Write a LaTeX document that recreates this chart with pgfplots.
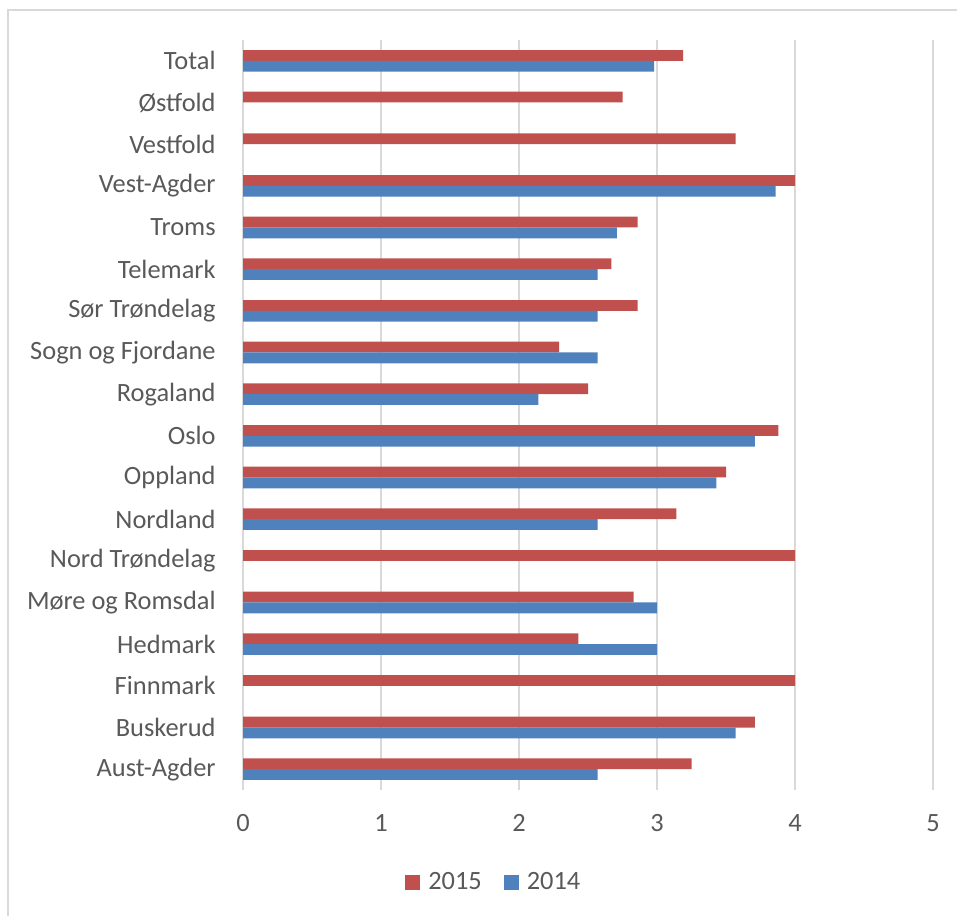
\documentclass[border=0pt]{standalone}
\usepackage{pgfplots}
\pgfplotsset{compat=1.18}
\usepackage{fontspec}
\setmainfont{Carlito}
\definecolor{txt}{HTML}{595959}
\definecolor{gridc}{HTML}{D9D9D9}
\definecolor{red15}{HTML}{C0504D}
\definecolor{blue14}{HTML}{4F81BD}
\begin{document}
\begin{tikzpicture}
\useasboundingbox (0,0) rectangle (478.5pt,457.5pt);
% chart area border (runs past the right and bottom edge)
\draw[gridc, line width=0.6pt] (4pt,-10pt) rectangle (492pt,452.5pt);
\begin{axis}[
    at={(121.5pt,62.5pt)}, anchor=south west,
    scale only axis, width=345pt, height=375pt,
    xbar, bar width=5.4pt,
    xmin=0, xmax=5, ymin=-0.5, ymax=17.5,
    xtick={0,...,5}, ytick={0,...,17},
    yticklabels={Aust-Agder,Buskerud,Finnmark,Hedmark,Møre og Romsdal,Nord Trøndelag,Nordland,Oppland,Oslo,Rogaland,Sogn og Fjordane,Sør Trøndelag,Telemark,Troms,Vest-Agder,Vestfold,Østfold,Total},
    major tick length=0pt,
    axis line style={draw=none},
    xmajorgrids, major grid style={gridc, line width=0.75pt},
    tick label style={font=\fontsize{13.2}{15}\selectfont, text=txt},
    /pgf/number format/assume math mode=true,
    yticklabel style={inner sep=0pt, xshift=-13.5pt},
    xticklabel style={inner sep=0pt, yshift=-12pt},
    legend columns=2,
    legend style={draw=none, at={(0.362,-0.1227)}, anchor=center,
        font=\fontsize{13.2}{15}\selectfont, text=txt,
        nodes={inner sep=0pt},
        /tikz/every even column/.append style={column sep=11pt}},
    legend image code/.code={\fill[#1] (0pt,-3.75pt) rectangle (7.5pt,3.75pt);
        \path (11.5pt,0pt);},
]
\addplot[fill=red15, draw=none, bar shift=2.7pt] coordinates {
    (3.25,0) (3.71,1) (4.0,2) (2.43,3) (2.83,4) (4.0,5) (3.14,6) (3.5,7)
    (3.88,8) (2.5,9) (2.29,10) (2.86,11) (2.67,12) (2.86,13) (4.0,14)
    (3.57,15) (2.75,16) (3.19,17)
};
\addlegendentry{2015}
\addplot[fill=blue14, draw=none, bar shift=-2.7pt] coordinates {
    (2.57,0) (3.57,1) (3.0,3) (3.0,4) (2.57,6) (3.43,7)
    (3.71,8) (2.14,9) (2.57,10) (2.57,11) (2.57,12) (2.71,13) (3.86,14)
    (2.98,17)
};
\addlegendentry{2014}
\end{axis}
\end{tikzpicture}
\end{document}
